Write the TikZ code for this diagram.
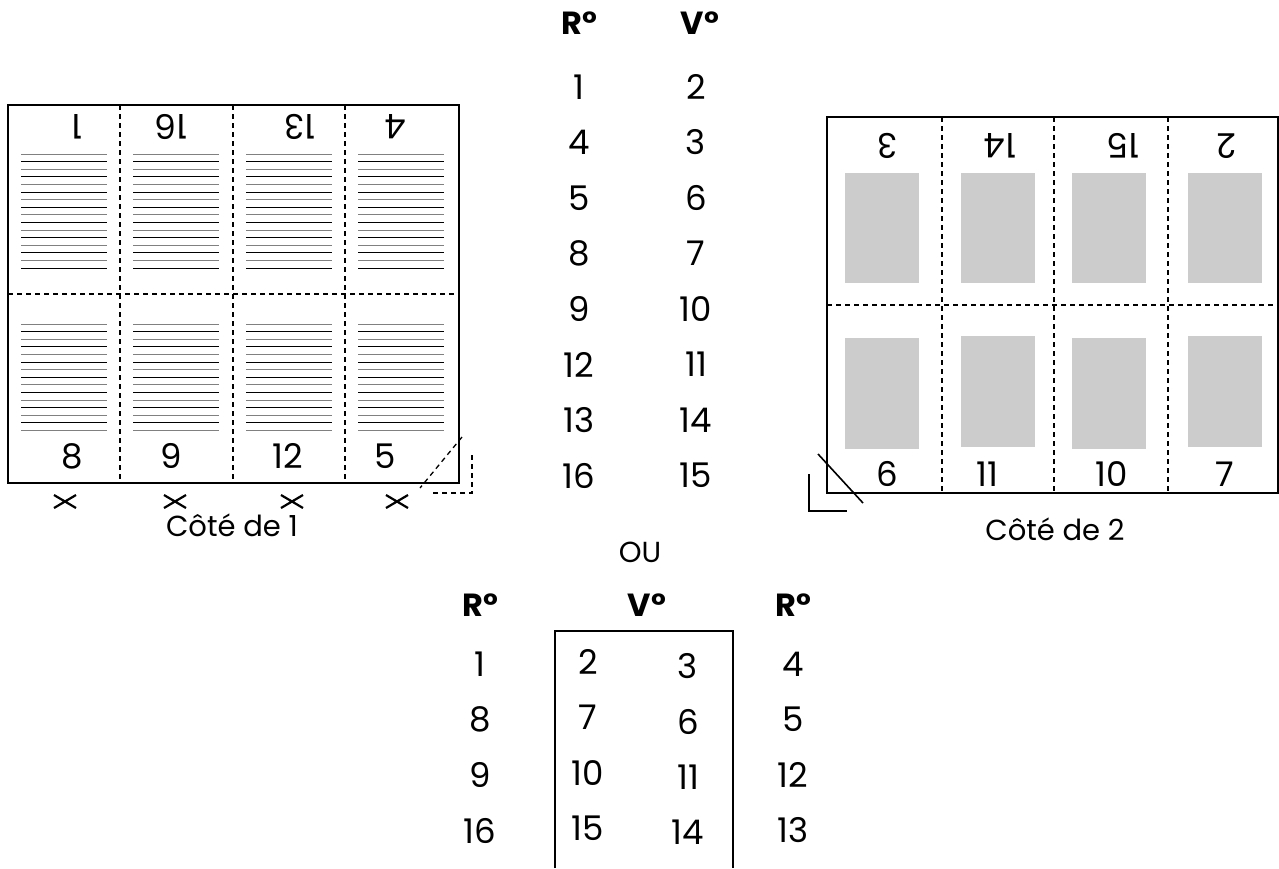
\documentclass[tikz,border=0pt]{standalone}
\usepackage{fontspec}
\setmainfont{Poppins}
\begin{document}
\begin{tikzpicture}[x=1pt,y=-1pt,
  lbl/.style={font=\fontsize{34}{36}\selectfont, inner sep=0pt, anchor=center},
  hd/.style={font=\fontsize{32}{34}\selectfont\bfseries, inner sep=0pt},
  captext/.style={font=\fontsize{29}{31}\selectfont, inner sep=0pt},
  fold/.style={dash pattern=on 5pt off 4pt, line width=1.3pt},
  edge/.style={line width=1.7pt},
  txtline/.style={line width=1pt}]
\useasboundingbox (0,0) rectangle (1279,868);

% ---------- left sheet (Cote de 1)
\draw[edge] (8,105) rectangle (459,483);
\foreach \x in {120,233,345} \draw[fold] (\x,105) -- (\x,483);
\draw[fold] (8,294) -- (459,294);
\foreach \x in {21,133,246,358} {
  \foreach \i in {0,2,...,14} \draw[txtline,gray] (\x,154+\i*7.6) -- ++(86,0);
  \foreach \i in {1,3,...,15} \draw[txtline,black] (\x,154+\i*7.6) -- ++(86,0);
  \foreach \i in {0,2,...,14} \draw[txtline,gray] (\x,324+\i*7.6) -- ++(86,0);
  \foreach \i in {1,3,...,13} \draw[txtline,black] (\x,324+\i*7.6) -- ++(86,0);
}
\node[lbl,rotate=180] (l1) at (77,127) {1};
\node[lbl,rotate=180] (l16) at (171,127) {16};
\node[lbl,rotate=180] (l13) at (300,127) {13};
\node[lbl,rotate=180] (l4) at (396,127) {4};
\node[lbl] (l8) at (72,456) {8};
\node[lbl] (l9) at (171,456) {9};
\node[lbl] (l12) at (288,456) {12};
\node[lbl] (l5) at (385,456) {5};
\foreach \x in {65,175,292,397}
  \draw[line width=2.2pt] (\x-11,495) -- (\x+11,508) (\x-11,508) -- (\x+11,495);
\draw[fold] (462,437) -- (420,488);
\draw[fold] (472,455) -- (472,493) -- (433,493);
\node[captext] (c1) at (232,525) {Côté de 1};

% ---------- right sheet (Cote de 2)
\draw[edge] (827,117) rectangle (1278,493);
\foreach \x in {942,1054,1168} \draw[fold] (\x,117) -- (\x,493);
\draw[fold] (827,305) -- (1278,305);
\foreach \x/\a/\b in {845/338/449, 961/336/447, 1072/338/449, 1188/336/447} {
  \fill[gray!40] (\x,173) rectangle (\x+74,283);
  \fill[gray!40] (\x,\a) rectangle (\x+74,\b);
}
\node[lbl,rotate=180] (r3) at (887,146) {3};
\node[lbl,rotate=180] (r14) at (1000,146) {14};
\node[lbl,rotate=180] (r15) at (1123,146) {15};
\node[lbl,rotate=180] (r2) at (1227,146) {2};
\node[lbl] (r6) at (887,474) {6};
\node[lbl] (r11) at (987,474) {11};
\node[lbl] (r10) at (1112,474) {10};
\node[lbl] (r7) at (1225,474) {7};
\draw[line width=1.6pt] (818,454) -- (863,503);
\draw[line width=1.2pt] (809,474) -- (809,511) -- (847,511);
\node[captext] (c2) at (1055,529) {Côté de 2};

% ---------- middle table
\node[hd] (hR) at (579,23) {R°};
\node[hd] (hV) at (700,23) {V°};
\foreach \r/\v [count=\k from 0] in {1/2,4/3,5/6,8/7,9/10,12/11,13/14,16/15} {
  \node[lbl] (mr\k) at (579,87+\k*55.5) {\r};
  \node[lbl] (mv\k) at (696,87+\k*55.5) {\v};
}
\node[captext] (ou) at (640,552) {OU};

% ---------- bottom table
\node[hd] (bR1) at (480,605) {R°};
\node[hd] (bV) at (647,605) {V°};
\node[hd] (bR2) at (793,605) {R°};
\draw[edge] (555,868) -- (555,631) -- (733,631) -- (733,868);
\foreach \a/\b/\c/\d [count=\k from 0] in {1/2/3/4, 8/7/6/5, 9/10/11/12, 16/15/14/13} {
  \node[lbl] (ba\k) at (480,664+\k*55.5) {\a};
  \node[lbl] (bb\k) at (588,662+\k*55.5) {\b};
  \node[lbl] (bc\k) at (688,666+\k*55.5) {\c};
  \node[lbl] (bd\k) at (793,664+\k*55.5) {\d};
}
\end{tikzpicture}
\end{document}
